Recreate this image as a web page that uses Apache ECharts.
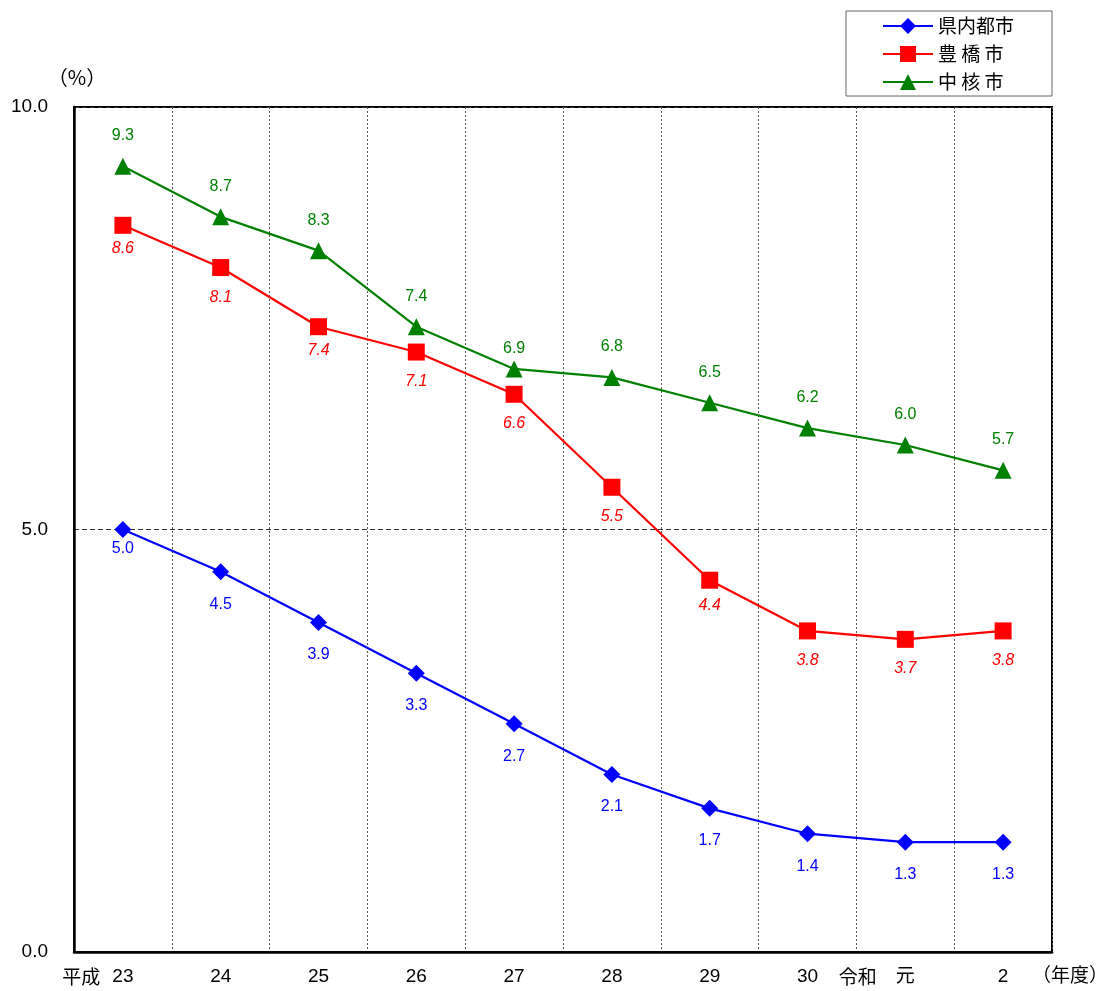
<!DOCTYPE html>
<html>
<head>
<meta charset="utf-8">
<script src="https://cdn.jsdelivr.net/npm/echarts@6/dist/echarts.min.js"></script>
<style>
  html, body { margin: 0; padding: 0; background: #fff; }
  #chart { width: 1109px; height: 991px; }
</style>
</head>
<body>
<div id="chart"></div>
<script>
// 年度ごとの比率（%）
const years = ['23', '24', '25', '26', '27', '28', '29', '30', '元', '2'];
const eraPrefix = { 0: '平成', 8: '令和' };
const kennai = [5.0, 4.5, 3.9, 3.3, 2.7, 2.1, 1.7, 1.4, 1.3, 1.3];
const toyohashi = [8.6, 8.1, 7.4, 7.1, 6.6, 5.5, 4.4, 3.8, 3.7, 3.8];
const chukaku = [9.3, 8.7, 8.3, 7.4, 6.9, 6.8, 6.5, 6.2, 6.0, 5.7];
const yTicks = [0, 5, 10];

const FONT = "'Liberation Sans', 'Noto Sans CJK JP', sans-serif";
const CJK = "'Noto Sans CJK JP', sans-serif";
const BLUE = '#0000ff', RED = '#ff0000', GREEN = '#008000';

// ラベル位置の微調整（線と重なる点だけ寄せる）
const tight = {
  kennai: { 0: 3 },
  toyohashi: { 0: 7, 2: 7, 6: 9 },
  chukaku: { 4: 4 }
};
function withLabelDistance(values, key) {
  return values.map((v, i) =>
    tight[key][i] !== undefined ? { value: v, label: { distance: tight[key][i] } } : v
  );
}

const chart = echarts.init(document.getElementById('chart'));
chart.setOption({
  animation: false,
  backgroundColor: '#fff',
  textStyle: { fontFamily: FONT },
  grid: {
    left: 74, top: 107, right: 57, bottom: 39,
    containLabel: false,
    outerBoundsMode: 'none',
    show: true, borderColor: '#000', borderWidth: 2, backgroundColor: 'transparent'
  },
  legend: {
    orient: 'vertical',
    left: 846, top: 11,
    padding: [5, 38, 4, 36],
    itemGap: 8,
    itemWidth: 50,
    itemHeight: 20,
    borderColor: '#666',
    borderWidth: 1,
    textStyle: { fontSize: 19, color: '#000', fontFamily: CJK, lineHeight: 20 },
    data: ['県内都市', '豊 橋 市', '中 核 市']
  },
  xAxis: {
    type: 'category',
    data: years,
    boundaryGap: true,
    name: '（年度）',
    nameLocation: 'end',
    nameGap: -20,
    nameTextStyle: {
      fontSize: 19, color: '#000', align: 'left', verticalAlign: 'top',
      padding: [13, 0, 0, 0], fontFamily: CJK
    },
    axisLine: { lineStyle: { color: '#000', width: 2.5 } },
    axisTick: { show: false },
    axisLabel: {
      interval: 0,
      margin: 15,
      fontSize: 19,
      color: '#000',
      formatter: (v, i) => {
        if (i === 0) return '{p|' + eraPrefix[0] + '}{n|' + v + '}{s|}';
        if (i === 8) return '{q|' + eraPrefix[8] + '}{n|' + v + '}{t|}';
        return '{n|' + v + '}';
      },
      rich: {
        n: { fontSize: 19, color: '#000', fontFamily: FONT },
        p: { fontSize: 19, color: '#000', width: 50, align: 'left', fontFamily: CJK },
        s: { width: 50 },
        q: { fontSize: 19, color: '#000', width: 57, align: 'left', fontFamily: CJK },
        t: { width: 57 }
      }
    },
    splitLine: { show: true, interval: 0, lineStyle: { color: '#555', type: [2, 2], width: 1 } }
  },
  yAxis: {
    type: 'value',
    min: yTicks[0],
    max: yTicks[yTicks.length - 1],
    interval: yTicks[1] - yTicks[0],
    name: '（%）',
    nameLocation: 'end',
    nameGap: 20,
    nameTextStyle: { fontSize: 20, color: '#000', fontFamily: CJK, padding: [0, 0, 0, 6] },
    axisLine: { show: true, lineStyle: { color: '#000', width: 2.5 } },
    axisTick: { show: false },
    axisLabel: {
      margin: 26, fontSize: 19, color: '#000',
      formatter: v => v.toFixed(1)
    },
    splitLine: { show: true, lineStyle: { color: '#333', type: [5, 3], width: 1 } }
  },
  series: [
    {
      name: '県内都市',
      type: 'line',
      data: withLabelDistance(kennai, 'kennai'),
      symbol: 'diamond',
      symbolSize: 17,
      itemStyle: { color: BLUE },
      lineStyle: { color: BLUE, width: 2.2 },
      label: {
        show: true, position: 'bottom', distance: 16,
        color: BLUE, fontSize: 16, fontFamily: FONT,
        formatter: p => p.value.toFixed(1)
      },
      z: 3
    },
    {
      name: '豊 橋 市',
      type: 'line',
      data: withLabelDistance(toyohashi, 'toyohashi'),
      symbol: 'rect',
      symbolSize: 17,
      itemStyle: { color: RED },
      lineStyle: { color: RED, width: 2.2 },
      label: {
        show: true, position: 'bottom', distance: 13,
        color: RED, fontSize: 16, fontStyle: 'italic', fontFamily: FONT,
        formatter: p => p.value.toFixed(1)
      },
      z: 3
    },
    {
      name: '中 核 市',
      type: 'line',
      data: withLabelDistance(chukaku, 'chukaku'),
      symbol: 'triangle',
      symbolSize: 17,
      itemStyle: { color: GREEN },
      lineStyle: { color: GREEN, width: 2.2 },
      label: {
        show: true, position: 'top', distance: 14,
        color: GREEN, fontSize: 16, fontFamily: FONT,
        formatter: p => p.value.toFixed(1)
      },
      z: 3
    }
  ]
});
</script>
</body>
</html>
